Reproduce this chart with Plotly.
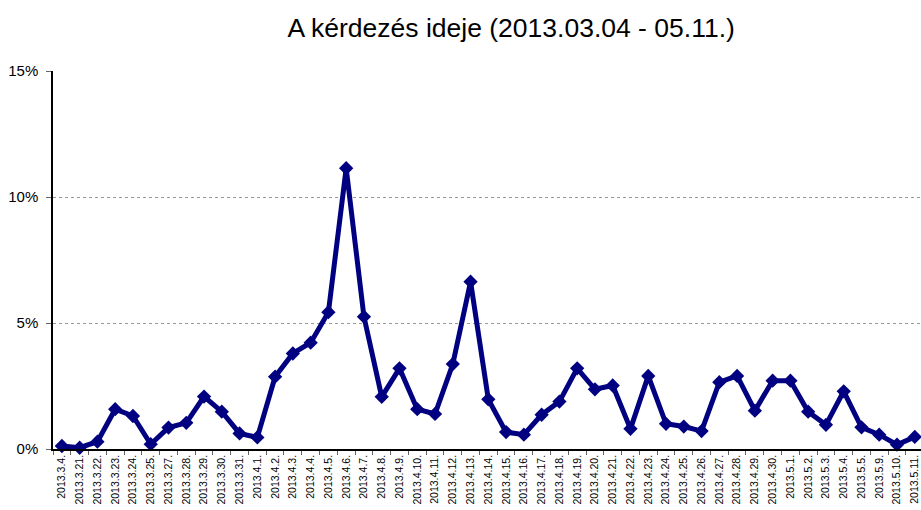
import plotly.graph_objects as go

dates = ["2013.3.4.", "2013.3.21.", "2013.3.22.", "2013.3.23.", "2013.3.24.", "2013.3.25.",
         "2013.3.27.", "2013.3.28.", "2013.3.29.", "2013.3.30.", "2013.3.31.",
         "2013.4.1.", "2013.4.2.", "2013.4.3.", "2013.4.4.", "2013.4.5.", "2013.4.6.",
         "2013.4.7.", "2013.4.8.", "2013.4.9.", "2013.4.10.", "2013.4.11.", "2013.4.12.",
         "2013.4.13.", "2013.4.14.", "2013.4.15.", "2013.4.16.", "2013.4.17.", "2013.4.18.",
         "2013.4.19.", "2013.4.20.", "2013.4.21.", "2013.4.22.", "2013.4.23.", "2013.4.24.",
         "2013.4.25.", "2013.4.26.", "2013.4.27.", "2013.4.28.", "2013.4.29.", "2013.4.30.",
         "2013.5.1.", "2013.5.2.", "2013.5.3.", "2013.5.4.", "2013.5.5.", "2013.5.9.",
         "2013.5.10.", "2013.5.11."]

share_pct = [0.12, 0.05, 0.29, 1.58, 1.31, 0.19, 0.85, 1.04, 2.08, 1.48, 0.62,
             0.46, 2.87, 3.79, 4.22, 5.43, 11.14, 5.25, 2.07, 3.20, 1.58, 1.39, 3.37,
             6.64, 1.97, 0.67, 0.57, 1.36, 1.88, 3.20, 2.37, 2.52, 0.80, 2.90, 1.00,
             0.89, 0.71, 2.65, 2.90, 1.52, 2.71, 2.71, 1.48, 0.96, 2.29, 0.86, 0.57,
             0.17, 0.48]

title_text = "A kérdezés ideje (2013.03.04 - 05.11.)"
y_ticks = [0, 5, 10, 15]

fig = go.Figure()
fig.add_trace(go.Scatter(
    x=dates, y=share_pct, mode="lines+markers",
    line=dict(color="#000080", width=5),
    marker=dict(symbol="diamond", size=11, color="#000080"),
    cliponaxis=False, showlegend=False,
))

fig.update_layout(
    width=921, height=510,
    margin=dict(l=53, r=0, t=71, b=61),
    paper_bgcolor="white", plot_bgcolor="white",
    font=dict(family="Liberation Sans, Arial, sans-serif", color="black"),
    title=dict(text=title_text, x=0.555, xref="container", xanchor="center",
               y=0.945, yanchor="middle", font=dict(size=26.5, color="black")),
    xaxis=dict(
        type="category", tickson="boundaries",
        range=[-0.5, 48.35], tickangle=-90, tickfont=dict(size=10.5),
        ticklabeloverflow="allow",
        showgrid=False, showline=True, linecolor="black", linewidth=1.5,
        ticks="outside", ticklen=4, tickcolor="#666666",
        zeroline=False, automargin=False,
    ),
    yaxis=dict(
        range=[0, 15], tickvals=y_ticks, ticktext=[f"{v}%" for v in y_ticks],
        tickfont=dict(size=15), showline=True, linecolor="black", linewidth=1.5,
        showgrid=True, gridcolor="#999999", griddash="dot", gridwidth=1,
        ticks="outside", ticklen=5, tickcolor="#666666", zeroline=False,
        ticklabelstandoff=5, automargin=False,
    ),
)

fig.write_html("out.html",
               config={"displayModeBar": False},
               post_script="document.body.style.margin='0';document.body.style.overflow='hidden';")
